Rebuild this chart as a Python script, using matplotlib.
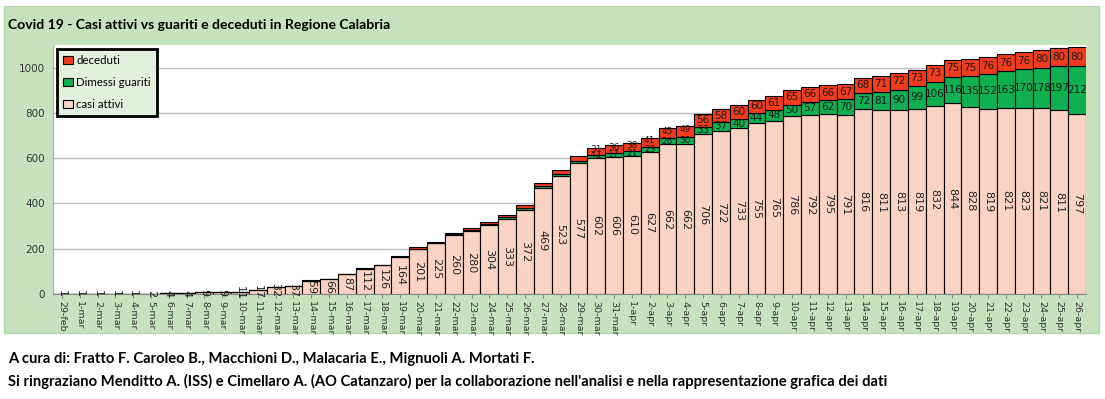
import matplotlib
matplotlib.use("Agg")
import matplotlib.pyplot as plt
from matplotlib.patches import Rectangle
import numpy as np

dates = ["29-feb"] + [f"{d}-mar" for d in range(1, 32)] + [f"{d}-apr" for d in range(1, 27)]

casi_attivi = [1, 1, 1, 1, 1, 2, 4, 4, 9, 9, 11, 17, 32, 37, 59, 66, 87, 112, 126, 164,
               201, 225, 260, 280, 304, 333, 372, 469, 523, 577, 602, 606,
               610, 627, 662, 662, 706, 722, 733, 755, 765, 786, 792, 795, 791, 816,
               811, 813, 819, 832, 844, 828, 819, 821, 823, 821, 811, 797]
guariti = [0, 0, 0, 0, 0, 0, 0, 0, 0, 0, 0, 0, 0, 0, 0, 0, 0, 0, 0, 0,
           0, 0, 4, 4, 4, 5, 6, 7, 8, 10, 14, 17,
           21, 23, 26, 30, 33, 37, 40, 44, 48, 50, 57, 62, 70, 72,
           81, 90, 99, 106, 116, 135, 152, 163, 170, 178, 197, 212]
deceduti = [0, 0, 0, 0, 0, 0, 0, 0, 0, 0, 0, 0, 0, 0, 1, 1, 1, 2, 2, 3,
            5, 6, 7, 8, 11, 12, 14, 16, 19, 24, 31, 36,
            38, 41, 45, 49, 56, 58, 60, 60, 61, 65, 66, 66, 67, 68,
            71, 72, 73, 73, 75, 75, 76, 76, 76, 80, 80, 80]

label_start = dates.index("30-mar")

c_att = "#fad3c2"
c_gua = "#10b050"
c_dec = "#f23c1e"
bg = "#c6e3bd"

fig = plt.figure(figsize=(11.05, 3.99), dpi=100)
fig.patch.set_facecolor("white")
fig.add_artist(Rectangle((4 / 1105, 1 - 333 / 399), 1095 / 1105, (333 - 6) / 399,
                         transform=fig.transFigure, facecolor=bg, edgecolor="#b8d4b0",
                         lw=1, zorder=0))

ax = fig.add_axes([53 / 1105, 1 - 294 / 399, (1086 - 53) / 1105, (294 - 45) / 399])
ax.set_facecolor("white")
x = np.arange(len(dates))
ca = np.array(casi_attivi)
gu = np.array(guariti)
de = np.array(deceduti)
b1 = ax.bar(x, ca, width=1.0, color=c_att, edgecolor="black", lw=0.8, label="casi attivi", zorder=3)
b2 = ax.bar(x, gu, bottom=ca, width=1.0, color=c_gua, edgecolor="black", lw=0.8, label="Dimessi guariti", zorder=3)
b3 = ax.bar(x, de, bottom=ca + gu, width=1.0, color=c_dec, edgecolor="black", lw=0.8, label="deceduti", zorder=3)

for i in range(len(dates)):
    ax.text(x[i], ca[i] / 2, str(ca[i]), rotation=270, ha="center", va="center",
            fontsize=8, color="#222222", zorder=4)
    if i >= label_start:
        fs = 6.5 if i < label_start + 6 else 7.5
        ax.text(x[i], ca[i] + gu[i] / 2, str(gu[i]), ha="center", va="center",
                fontsize=fs, color="#1a1a1a", zorder=4)
        ax.text(x[i], ca[i] + gu[i] + de[i] / 2 + (8 if i < label_start + 6 else 0), str(de[i]),
                ha="center", va="center", fontsize=fs, color="#1a1a1a", zorder=4)

ax.set_xlim(-0.5, len(dates) - 0.5)
ax.set_ylim(0, 1100)
ax.set_yticks([0, 200, 400, 600, 800, 1000])
ax.yaxis.grid(True, color="#bdbdbd", lw=1.0, zorder=0)
ax.set_axisbelow(True)
ax.set_xticks(x)
ax.set_xticklabels(dates, rotation=270, fontsize=6.8, color="#333333")
ax.tick_params(axis="y", labelsize=7.5, colors="#333333", length=0, pad=6)
ax.tick_params(axis="x", length=3, color="#888888", pad=2)
for s in ["top", "right"]:
    ax.spines[s].set_visible(False)
ax.spines["left"].set_color("#aaaaaa")
ax.spines["bottom"].set_color("#888888")

handles = [b3, b2, b1]
leg = ax.legend(handles, ["deceduti", "Dimessi guariti", "casi attivi"],
                loc="upper left", bbox_to_anchor=(0.004, 0.985), borderaxespad=0,
                frameon=True, fancybox=False, handlelength=0.8, handleheight=0.8,
                handletextpad=0.3, labelspacing=0.95, borderpad=0.55,
                prop={"family": "Lato", "size": 8.3})
leg.get_frame().set_facecolor("#e3f0de")
leg.get_frame().set_edgecolor("black")
leg.get_frame().set_linewidth(2)
leg.get_frame().set_alpha(1)
leg.set_zorder(10)

fig.text(8 / 1105, 1 - 25 / 399, "Covid 19 - Casi attivi vs guariti e deceduti in Regione Calabria",
         fontsize=10.1, fontweight="bold", family="Lato", va="center", ha="left")
fig.text(8 / 1105, 1 - 359 / 399, "A cura di: Fratto F. Caroleo B., Macchioni D., Malacaria E., Mignuoli A. Mortati F.",
         fontsize=10.6, fontweight="bold", family="Lato", va="center", ha="left")
fig.text(8 / 1105, 1 - 381 / 399, "Si ringraziano Menditto A. (ISS) e Cimellaro A. (AO Catanzaro) per la collaborazione nell'analisi e nella rappresentazione grafica dei dati",
         fontsize=10.6, fontweight="bold", family="Lato", va="center", ha="left")

fig.savefig("out.png", dpi=100, facecolor="white")
